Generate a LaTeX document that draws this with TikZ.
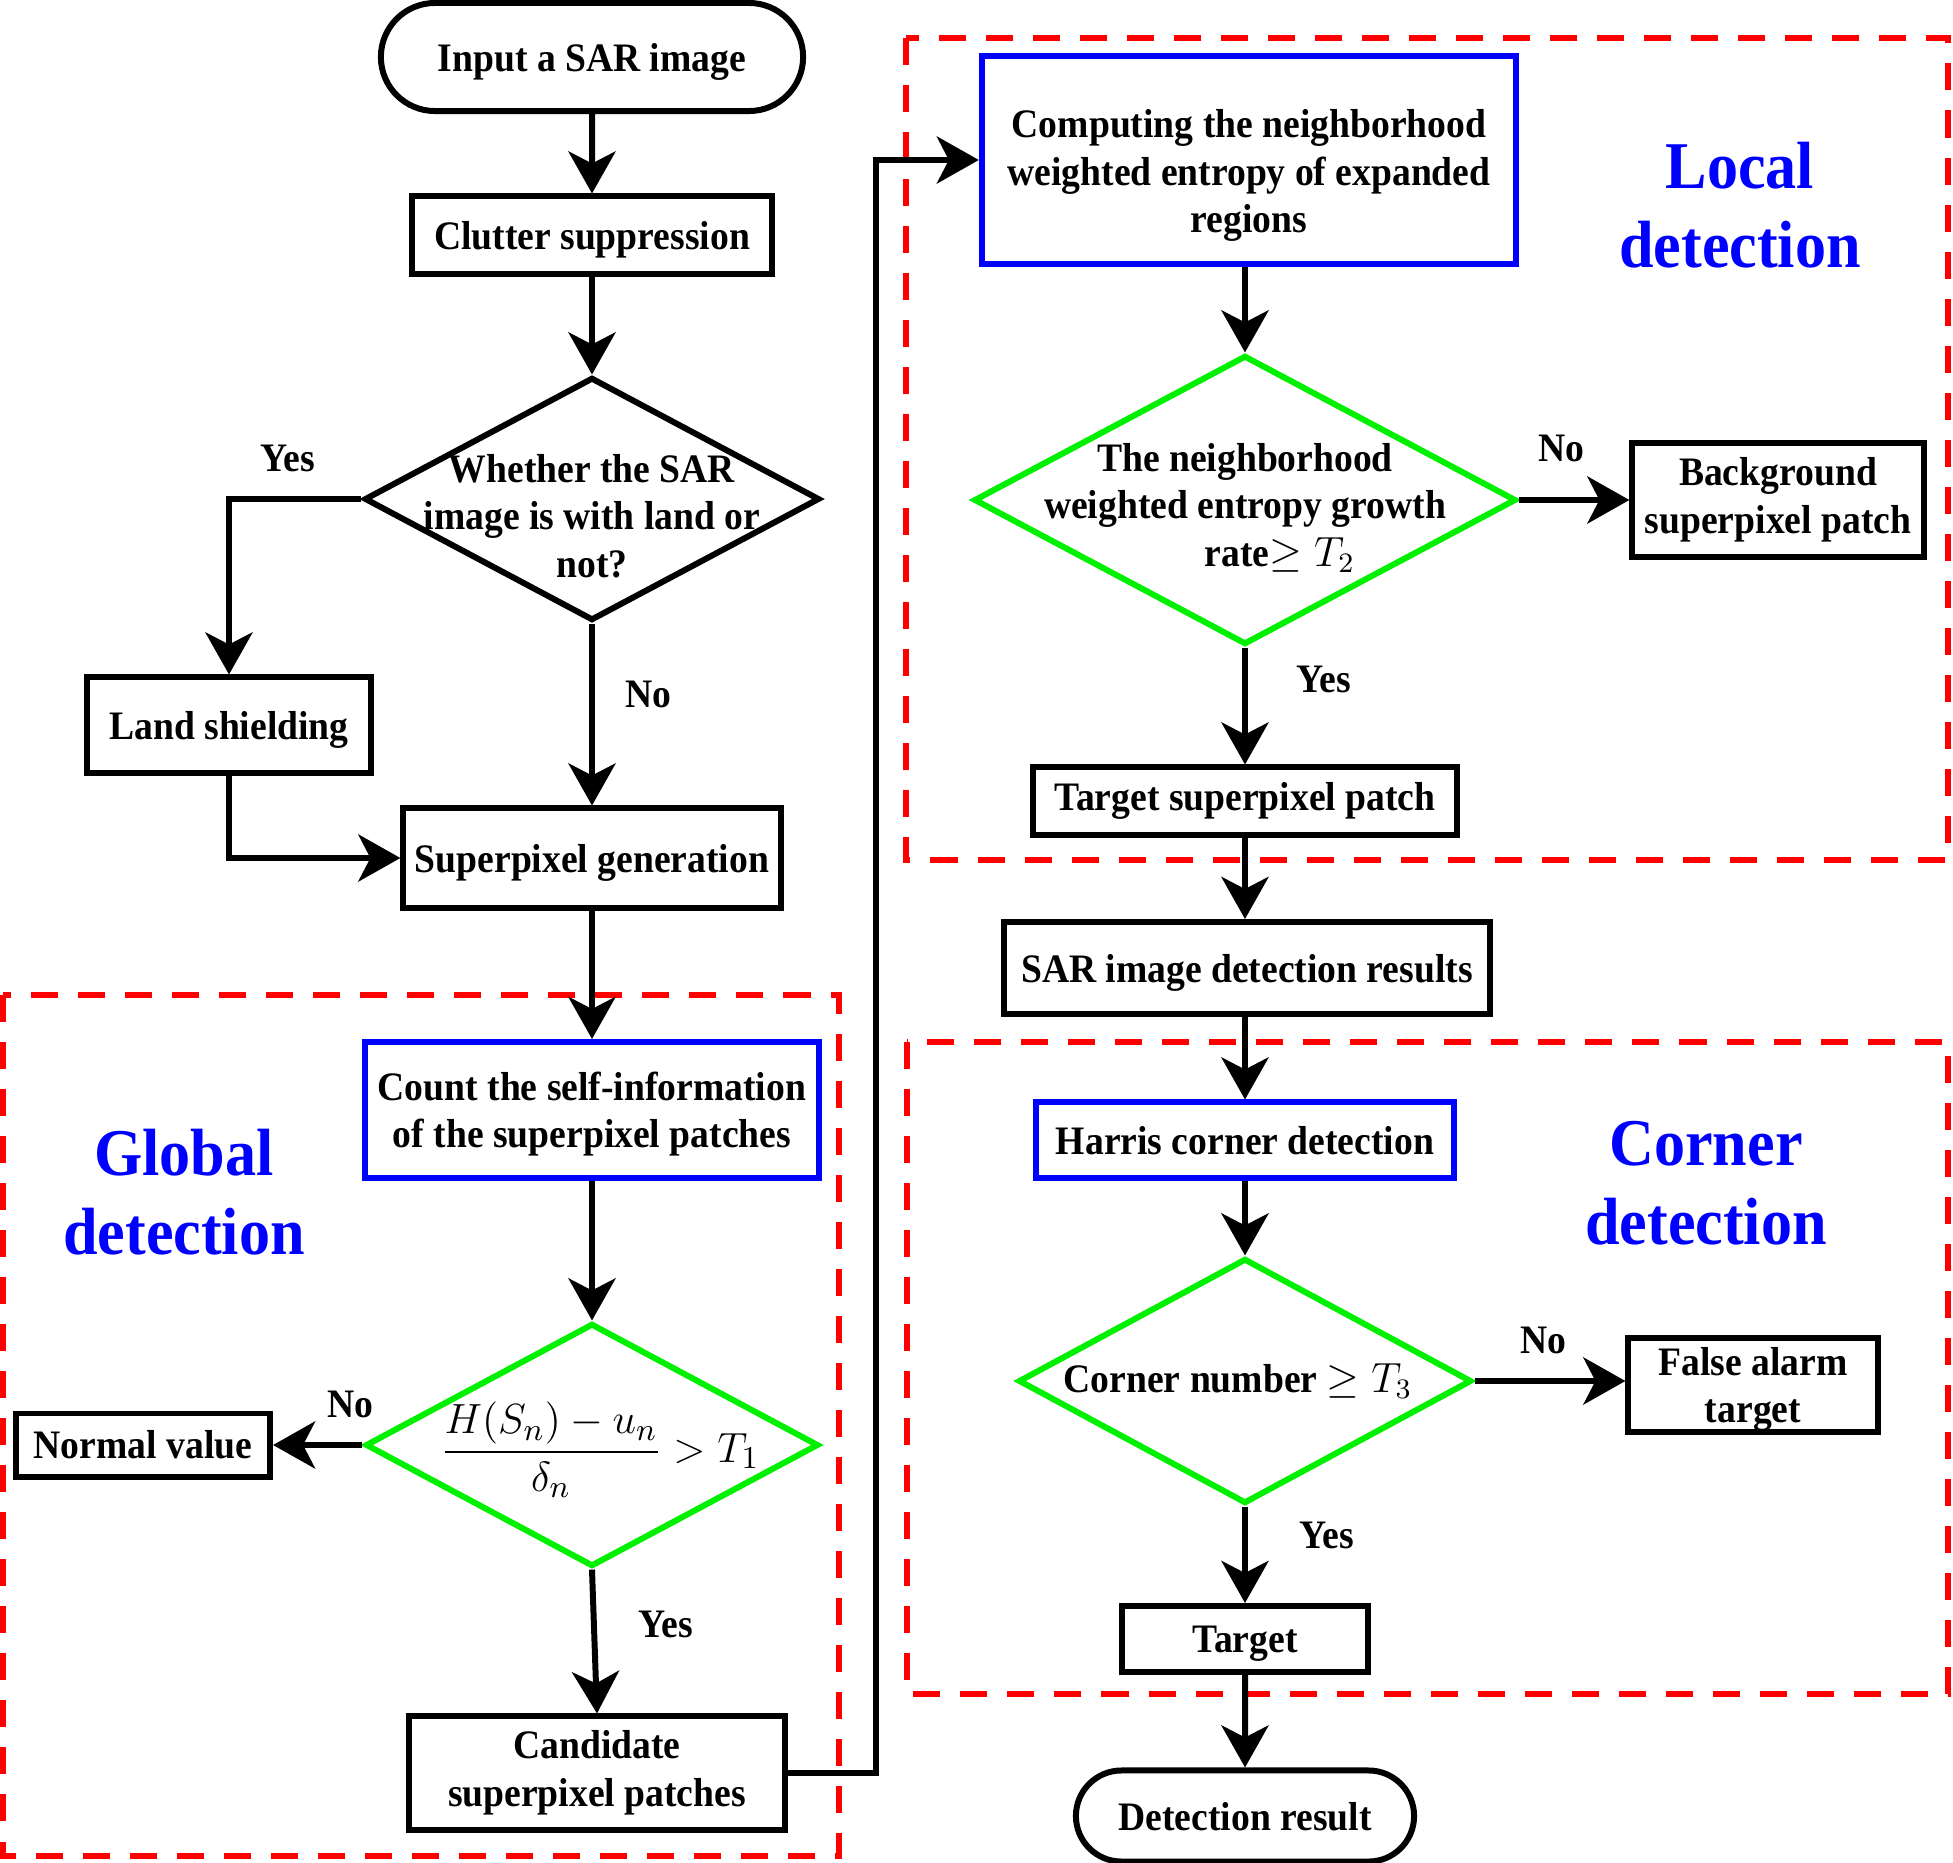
\documentclass[tikz,border=0pt]{standalone}
\usepackage{fontspec}
\setmainfont[FakeStretch=0.93]{Liberation Serif}
\usetikzlibrary{arrows.meta,shapes.geometric,shapes.misc}
\definecolor{fcred}{RGB}{255,0,0}
\definecolor{fcblue}{RGB}{0,0,255}
\definecolor{fcgreen}{RGB}{0,240,0}
\tikzset{
  every node/.style={font=\bfseries\fontsize{11.5}{13.5}\selectfont, align=center, inner sep=0pt},
  box/.style={draw, rectangle, minimum width=#1},
  bluebox/.style={draw=fcblue, rectangle, minimum width=#1},
  term/.style={draw, rounded rectangle, minimum width=#1},
  sunk/.style={text depth=#1},
  sunk/.default=0pt,
  decision/.style={draw=#1, diamond},
  arr/.style={-{Stealth[length=0.42cm,width=0.47cm,inset=0.12cm]}},
  region/.style={draw=fcred, dash pattern=on 0.27cm off 0.2cm, line width=1.8pt},
  title/.style={text=fcblue, font=\bfseries\fontsize{19}{22.5}\selectfont}
}
\begin{document}
\begin{tikzpicture}[x=0.01cm,y=-0.01cm,line width=1.7pt]
    \useasboundingbox (0,0) rectangle (1953,1863);
    %dashed regions
    \draw [region] (3,995) rectangle (839,1856);
    \draw [region] (906,38) rectangle (1948,860);
    \draw [region] (907,1042) rectangle (1948,1694);
    \node [title] (global) at (184,1192) {Global\\detection};
    \node [title] (local) at (1740,205) {Local\\detection};
    \node [title] (corner) at (1706,1183) {Corner\\detection};
    %left column
    \node [term=4.22cm, minimum height=1.08cm, sunk] (start) at (592,57) {Input a SAR image};
    \node [box=3.59cm, minimum height=0.77cm, sunk] (clutter) at (592,235) {Clutter suppression};
    \node [decision=black, minimum width=4.55cm, minimum height=2.43cm] (d1) at (592,499) {};
    \node (d1t) at (592,516) {Whether the SAR\\image is with land or\\not?};
    \node [box=2.83cm, minimum height=0.95cm, sunk] (land) at (229,725) {Land shielding};
    \node [box=3.77cm, minimum height=0.99cm, sunk] (spg) at (592,858) {Superpixel generation};
    \node [bluebox=4.54cm, minimum height=1.36cm, sunk] (count) at (592,1110) {Count the self-information\\of the superpixel patches};
    \node [decision=fcgreen, minimum width=4.53cm, minimum height=2.43cm] (d4) at (592,1445) {};
    \node [font=\fontsize{13}{15}\selectfont] (d4t) at (600,1450) {$\displaystyle\frac{H(S_n)-u_n}{\delta_n}>T_1$};
    \node [box=2.54cm, minimum height=0.63cm] (normal) at (143,1445) {Normal value};
    \node [box=3.75cm, minimum height=1.13cm] (cand) at (597,1773) {Candidate\\superpixel patches};
    %right column
    \node [bluebox=5.34cm, minimum height=2.08cm, sunk, text height=1.45cm] (compute) at (1249,160) {Computing the neighborhood\\weighted entropy of expanded\\regions};
    \node [decision=fcgreen, minimum width=5.42cm, minimum height=2.89cm] (d2) at (1245,500) {};
    \node (d2t) at (1245,508) {The neighborhood\\weighted entropy growth\\\hspace*{0.7cm}rate$\geq T_2$};
    \node [box=2.91cm, minimum height=1.13cm] (bg) at (1778,500) {Background\\superpixel patch};
    \node [box=4.23cm, minimum height=0.67cm] (tsp) at (1245,801) {Target superpixel patch};
    \node [box=4.85cm, minimum height=0.92cm, sunk] (sarres) at (1247,968) {SAR image detection results};
    \node [bluebox=4.18cm, minimum height=0.75cm, sunk] (harris) at (1245,1140) {Harris corner detection};
    \node [decision=fcgreen, minimum width=4.53cm, minimum height=2.45cm] (d3) at (1245,1381) {};
    \node (d3t) at (1238,1381) {Corner number $\geq T_3$};
    \node [box=2.49cm, minimum height=0.94cm, sunk] (fa) at (1753,1385) {False alarm\\target};
    \node [box=2.46cm, minimum height=0.66cm, sunk] (target) at (1245,1639) {Target};
    \node [term=3.38cm, minimum height=0.91cm, sunk] (result) at (1245,1816) {Detection result};
    %yes / no
    \node (yes1) at (288,458) {Yes};
    \node (no1) at (648,694) {No};
    \node (no4) at (350,1404) {No};
    \node (yes4) at (666,1624) {Yes};
    \node (no2) at (1561,448) {No};
    \node (yes2) at (1324,679) {Yes};
    \node (no3) at (1543,1340) {No};
    \node (yes3) at (1327,1535) {Yes};
    %draw lines
    \draw [arr] (start) -- (clutter);
    \draw [arr] (clutter) -- (d1);
    \draw [arr] (d1.west) -| (land.north);
    \draw [arr] (d1.south) -- (spg.north);
    \draw [arr] (land.south) |- (spg.west);
    \draw [arr] (spg) -- (count);
    \draw [arr] (count) -- (d4);
    \draw [arr] (d4.west) -- (normal.east);
    \draw [arr] (d4.south) -- (cand.north);
    \draw [arr] (cand.east) -- ++(88,0) |- (compute.west);
    \draw [arr] (compute.south -| d2.north) -- (d2.north);
    \draw [arr] (d2.east) -- (bg.west);
    \draw [arr] (d2.south) -- (tsp.north);
    \draw [arr] (tsp.south) -- (tsp.south |- sarres.north);
    \draw [arr] (sarres.south -| harris.north) -- (harris.north);
    \draw [arr] (harris) -- (d3);
    \draw [arr] (d3.east) -- (d3.east -| fa.west);
    \draw [arr] (d3.south) -- (target.north);
    \draw [arr] (target) -- (result);
\end{tikzpicture}
\end{document}
